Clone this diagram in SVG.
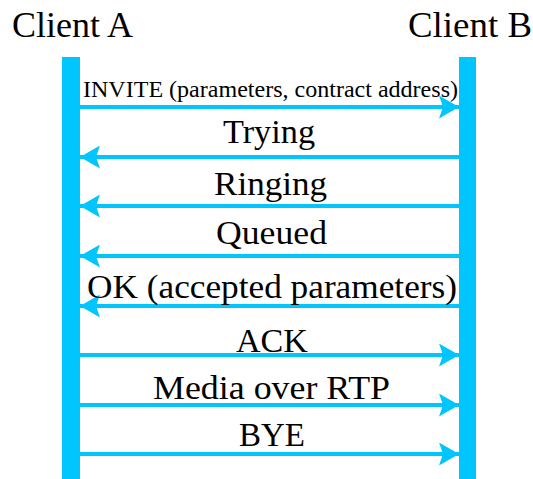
<svg xmlns="http://www.w3.org/2000/svg" width="533" height="479" viewBox="0 0 533 479">
  <style>
    .bar { fill: #00c6fd; }
    .msg { stroke: #00c6fd; stroke-width: 4; fill: none; marker-end: url(#head); }
    .lbl { font-family: "Liberation Serif", "DejaVu Serif", serif; fill: #000; font-size: 33px; }
    .small { font-size: 23px; }
    .title { font-family: "Liberation Serif", "DejaVu Serif", serif; fill: #000; font-size: 35px; }
  </style>
  <defs>
    <marker id="head" viewBox="0 0 20 23" refX="20" refY="11.5" markerWidth="20" markerHeight="23" markerUnits="userSpaceOnUse" orient="auto">
      <path d="M0,0 L20,11.5 L0,23 L4,11.5 Z" fill="#00c6fd"/>
    </marker>
  </defs>
  <rect width="533" height="479" fill="#fff"/>
  <g id="client-a">
    <text class="title" x="12" y="37" textLength="121" lengthAdjust="spacingAndGlyphs">Client A</text>
    <rect class="bar" x="62" y="57" width="18" height="422"/>
  </g>
  <g id="client-b">
    <text class="title" x="408" y="37" textLength="124" lengthAdjust="spacingAndGlyphs">Client B</text>
    <rect class="bar" x="459" y="57" width="17" height="422"/>
  </g>
  <g id="connectors">
    <line class="msg" x1="80" y1="107" x2="459" y2="107"/>
    <line class="msg" x1="459" y1="157" x2="80" y2="157"/>
    <line class="msg" x1="459" y1="206" x2="80" y2="206"/>
    <line class="msg" x1="459" y1="256" x2="80" y2="256"/>
    <line class="msg" x1="459" y1="306" x2="80" y2="306"/>
    <line class="msg" x1="80" y1="355" x2="459" y2="355"/>
    <line class="msg" x1="80" y1="405" x2="459" y2="405"/>
    <line class="msg" x1="80" y1="454" x2="459" y2="454"/>
    <text class="lbl small" x="83" y="97" textLength="375" lengthAdjust="spacingAndGlyphs">INVITE (parameters, contract address)</text>
    <text class="lbl" x="223" y="143" textLength="92" lengthAdjust="spacingAndGlyphs">Trying</text>
    <text class="lbl" x="214" y="195" textLength="113" lengthAdjust="spacingAndGlyphs">Ringing</text>
    <text class="lbl" x="216" y="244" textLength="111" lengthAdjust="spacingAndGlyphs">Queued</text>
    <text class="lbl" x="87" y="298" textLength="370" lengthAdjust="spacingAndGlyphs">OK (accepted parameters)</text>
    <text class="lbl" x="236" y="352" textLength="72" lengthAdjust="spacingAndGlyphs">ACK</text>
    <text class="lbl" x="153" y="399" textLength="237" lengthAdjust="spacingAndGlyphs">Media over RTP</text>
    <text class="lbl" x="239" y="446" textLength="66" lengthAdjust="spacingAndGlyphs">BYE</text>
  </g>
</svg>
